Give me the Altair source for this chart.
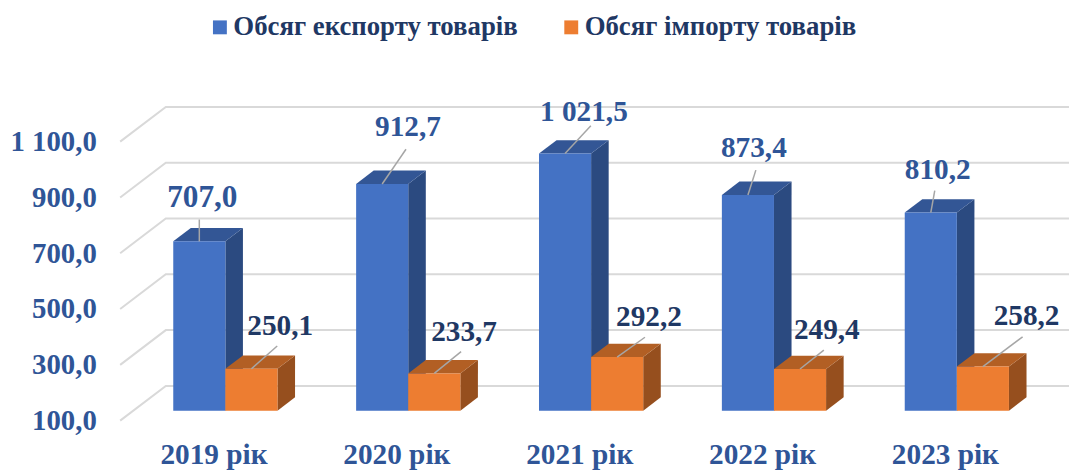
import altair as alt
import pandas as pd

# ---- data
years = [2019, 2020, 2021, 2022, 2023]
export_values = [707.0, 912.7, 1021.5, 873.4, 810.2]
import_values = [250.1, 233.7, 292.2, 249.4, 258.2]
export_name = "Обсяг експорту товарів"
import_name = "Обсяг імпорту товарів"
grid_values = [100, 300, 500, 700, 900, 1100]

# ---- layout constants (pixels)
PX_PER_YEAR = 184.25
PX_PER_UNIT = 0.2811
PLOT_W, PLOT_H = 956, 322
LEFT_YEAR = 2019 + (121 - 215) / PX_PER_YEAR
RIGHT_YEAR = LEFT_YEAR + PLOT_W / PX_PER_YEAR
TOP_VALUE = 100 + PLOT_H / PX_PER_UNIT
BAR_W = 52.5
PLANE_DX, PLANE_DY = 12, 10       # bar front plane vs axis plane
DEPTH_DX, DEPTH_DY = 17.7, 13.5   # bar depth
WALL_DX, WALL_DY = 46, 35         # chart wall depth

# label centre and leader tip relative to the leader's start on the bar top
export_label_off = [(3, -44), (26, -57), (19, -42), (6, -47), (7, -43)]
export_tip_off = [(0, -22), (24, -35), (26, -28), (8, -25), (4, -22)]
export_label_size = [31.5, 29.5, 29.5, 29.5, 29.5]
import_label_off = [(29, -43), (30, -42), (32, -40), (27, -39), (44, -51)]
import_tip_off = [(26, -23), (27, -22), (28, -20), (24, -19), (40, -30)]
import_label_size = [29.5, 29.5, 29.5, 29.5, 29.5]


def xu(px):
    return px / PX_PER_YEAR


def yu(px):
    return px / PX_PER_UNIT


x_scale = alt.Scale(domain=[LEFT_YEAR, RIGHT_YEAR], nice=False, zero=False)
y_scale = alt.Scale(domain=[100, TOP_VALUE], nice=False, zero=False)
FONT = "Liberation Serif"
BLUE_TEXT = "#2F5597"
NAVY_TEXT = "#1F3864"

# ---- gridlines
grid_rows = []
for v in grid_values:
    grid_rows += [
        {"g": v, "o": 0, "x": LEFT_YEAR, "y": v},
        {"g": v, "o": 1, "x": LEFT_YEAR + xu(WALL_DX), "y": v + yu(WALL_DY)},
        {"g": v, "o": 2, "x": RIGHT_YEAR, "y": v + yu(WALL_DY)},
    ]
grid = (
    alt.Chart(pd.DataFrame(grid_rows))
    .mark_line(color="#D9D9D9", strokeWidth=2)
    .encode(
        x=alt.X(
            "x:Q",
            scale=x_scale,
            title=None,
            axis=alt.Axis(
                values=years,
                labelExpr="datum.value + ' рік'",
                grid=False,
                domain=False,
                ticks=False,
                labelFont=FONT,
                labelFontSize=29.5,
                labelFontWeight="bold",
                labelColor=BLUE_TEXT,
                labelPadding=20,
                labelFlush=False,
                labelOverlap=False,
            ),
        ),
        y=alt.Y(
            "y:Q",
            scale=y_scale,
            title=None,
            axis=alt.Axis(
                values=grid_values,
                labelExpr="replace(replace(format(datum.value, ',.1f'), ',', ' '), '.', ',')",
                grid=False,
                domain=False,
                ticks=False,
                labelFont=FONT,
                labelFontSize=29,
                labelFontWeight="bold",
                labelColor=BLUE_TEXT,
                labelPadding=24,
                labelOverlap=False,
                labelFlush=False,
            ),
        ),
        detail="g:N",
        order="o:Q",
    )
)


def fmt(v):
    s = f"{v:,.1f}"
    return s.replace(",", " ").replace(".", ",")


def series_layers(values, name, side_col, top_col, shift_px, legend):
    base_y = 100 + yu(PLANE_DY)
    x0 = [y + xu(PLANE_DX) + xu(shift_px) for y in years]
    w = xu(BAR_W)
    dx, dy = xu(DEPTH_DX), yu(DEPTH_DY)
    side, top, front = [], [], []
    for i, (xl, v) in enumerate(zip(x0, values)):
        t = v + yu(PLANE_DY)
        side += [
            {"i": i, "x": xl + w, "y": t, "y2": base_y},
            {"i": i, "x": xl + w + dx, "y": t + dy, "y2": base_y + dy},
        ]
        top += [
            {"i": i, "y": t, "x": xl, "x2": xl + w},
            {"i": i, "y": t + dy, "x": xl + dx, "x2": xl + w + dx},
        ]
        front.append({"s": name, "x": xl, "x2": xl + w, "y": t, "y2": base_y})
    side_l = (
        alt.Chart(pd.DataFrame(side))
        .mark_area(orient="vertical", color=side_col)
        .encode(x=alt.X("x:Q", scale=x_scale), y=alt.Y("y:Q", scale=y_scale), y2="y2:Q", detail="i:N")
    )
    top_l = (
        alt.Chart(pd.DataFrame(top))
        .mark_area(orient="horizontal", color=top_col)
        .encode(y=alt.Y("y:Q", scale=y_scale), x=alt.X("x:Q", scale=x_scale), x2="x2:Q", detail="i:N")
    )
    front_l = (
        alt.Chart(pd.DataFrame(front))
        .mark_rect()
        .encode(
            x=alt.X("x:Q", scale=x_scale),
            x2="x2:Q",
            y=alt.Y("y:Q", scale=y_scale),
            y2="y2:Q",
            color=alt.Color(
                "s:N",
                scale=alt.Scale(domain=[export_name, import_name], range=["#4472C4", "#ED7D31"]),
                legend=legend,
            ),
        )
    )
    return [side_l, top_l, front_l], [xl + w / 2 for xl in x0]


legend = alt.Legend(
    title=None,
    orient="none",
    direction="horizontal",
    legendX=87,
    legendY=-88,
    symbolType="square",
    symbolSize=196,
    symbolStrokeWidth=0,
    symbolOpacity=1,
    labelFont=FONT,
    labelFontSize=27,
    labelFontWeight="bold",
    labelColor=NAVY_TEXT,
    labelLimit=0,
    columnPadding=40,
    labelOffset=0,
)

exp_layers, exp_cx = series_layers(export_values, export_name, "#2B4A80", "#335695", -BAR_W, legend)
imp_layers, imp_cx = series_layers(import_values, import_name, "#964F1E", "#B25F24", 0, legend)


def annotations(values, cx, label_off, tip_off, sizes, color):
    lead, text = [], []
    for i, v in enumerate(values):
        sy = v + yu(PLANE_DY)
        lead += [
            {"i": i, "o": 0, "x": cx[i], "y": sy},
            {"i": i, "o": 1, "x": cx[i] + xu(tip_off[i][0]), "y": sy - yu(tip_off[i][1])},
        ]
        text.append(
            {"t": fmt(v), "z": sizes[i], "x": cx[i] + xu(label_off[i][0]), "y": sy - yu(label_off[i][1])}
        )
    l = (
        alt.Chart(pd.DataFrame(lead))
        .mark_line(color="#A6A6A6", strokeWidth=1.5)
        .encode(x=alt.X("x:Q", scale=x_scale), y=alt.Y("y:Q", scale=y_scale), detail="i:N", order="o:Q")
    )
    t = (
        alt.Chart(pd.DataFrame(text))
        .mark_text(font=FONT, fontWeight="bold", color=color, align="center", baseline="middle")
        .encode(
            x=alt.X("x:Q", scale=x_scale),
            y=alt.Y("y:Q", scale=y_scale),
            text="t:N",
            size=alt.Size("z:Q", scale=None),
        )
    )
    return [l, t]


layers = (
    [grid]
    + exp_layers
    + imp_layers
    + annotations(export_values, exp_cx, export_label_off, export_tip_off, export_label_size, BLUE_TEXT)
    + annotations(import_values, imp_cx, import_label_off, import_tip_off, import_label_size, NAVY_TEXT)
)

chart = (
    alt.layer(*layers)
    .properties(
        width=PLOT_W,
        height=PLOT_H,
        background="white",
        padding={"left": 113, "top": 92, "right": 0, "bottom": 50},
        autosize=alt.AutoSizeParams(type="none"),
    )
    .configure_view(strokeWidth=0, stroke=None)
)

chart.save("out.html", embed_options={"renderer": "svg", "actions": False})
